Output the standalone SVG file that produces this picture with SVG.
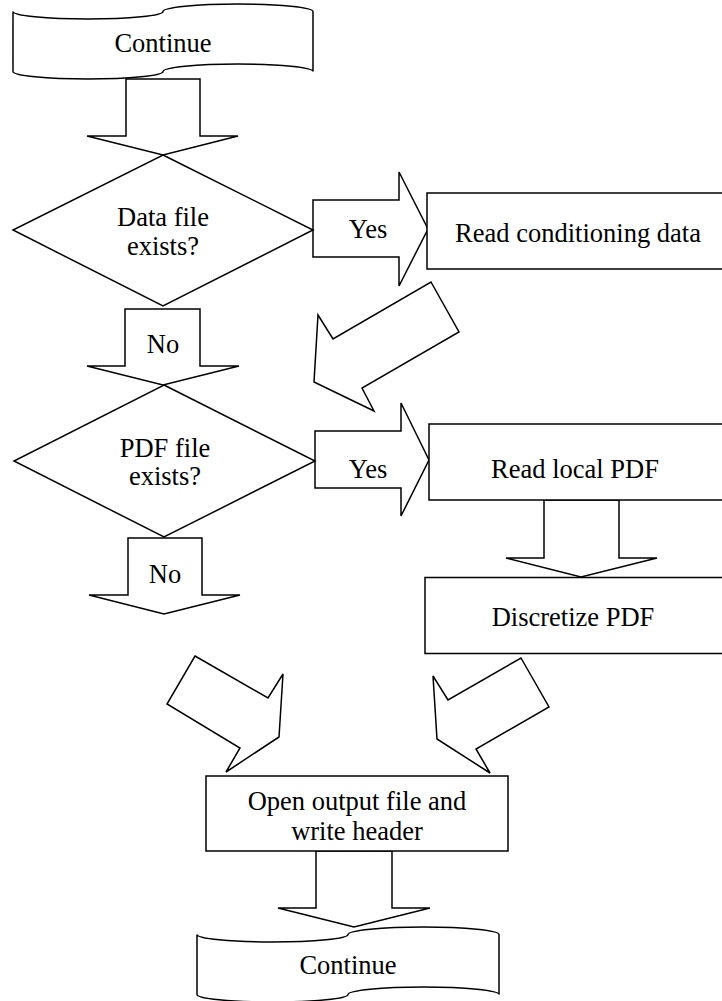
<svg xmlns="http://www.w3.org/2000/svg" width="722" height="1001" viewBox="0 0 722 1001">
<style>
.s{fill:#fff;stroke:#000;stroke-width:1.5;stroke-linejoin:miter}
.t{font-family:"Liberation Serif","Times New Roman",serif;font-size:26.5px;fill:#000;text-anchor:middle}
</style>
<rect width="722" height="1001" fill="#fff"/>
<g id="connectors">
  <path class="s" d="M126,79 L200,79 L200,136 L238,136 L163,155 L87,136 L126,136 Z"/>
  <path class="s" d="M313,200 L399,200 L399,172 L428,229 L399,286 L399,257 L313,257 Z"/>
  <path class="s" d="M125,309 L200,309 L200,366 L239,366 L163,385 L87,366 L125,366 Z"/>
  <path class="s" d="M431,282 L459,332 L362,388 L374,411 L314,382 L318,315 L333,339 Z"/>
  <path class="s" d="M315,431 L401,431 L401,403 L429,460 L401,516 L401,488 L315,488 Z"/>
  <path class="s" d="M128,538 L202,538 L202,595 L240,595 L164,614 L89,595 L128,595 Z"/>
  <path class="s" d="M544,500 L619,500 L619,558 L657,558 L581,577 L506,558 L544,558 Z"/>
  <path class="s" d="M195,656 L268,698 L283,674 L279,737 L226,772 L240,748 L167,704 Z"/>
  <path class="s" d="M521,658 L549,707 L476,749 L490,773 L437,739 L433,676 L448,700 Z"/>
  <path class="s" d="M316,851 L392,851 L392,908 L430,908 L354,927 L278,908 L316,908 Z"/>
  <text class="t" x="368" y="238">Yes</text>
  <text class="t" x="163" y="353">No</text>
  <text class="t" x="368" y="478">Yes</text>
  <text class="t" x="165" y="583">No</text>
</g>
<g id="start">
  <path class="s" d="M13,11.5 A75,7.5 0 0 0 163,11.5 A75,7.5 0 0 1 313,11.5 L313,71.5 A75,7.5 0 0 0 163,71.5 A75,7.5 0 0 1 13,71.5 Z"/>
  <text class="t" x="163" y="52">Continue</text>
</g>
<g id="dataFileExists">
  <path class="s" d="M163,155 L313,230 L163,306 L13,230 Z"/>
  <text class="t" x="163" y="226">Data file</text>
  <text class="t" x="163" y="255">exists?</text>
</g>
<g id="readConditioning">
  <rect class="s" x="427" y="193" width="300" height="76"/>
  <text class="t" x="578" y="242">Read conditioning data</text>
</g>
<g id="pdfFileExists">
  <path class="s" d="M164,385 L315,461 L164,537 L14,461 Z"/>
  <text class="t" x="165" y="457">PDF file</text>
  <text class="t" x="165" y="485">exists?</text>
</g>
<g id="readLocalPdf">
  <rect class="s" x="429" y="424" width="300" height="76"/>
  <text class="t" x="575" y="478">Read local PDF</text>
</g>
<g id="discretizePdf">
  <rect class="s" x="425" y="577.5" width="302" height="76"/>
  <text class="t" x="573" y="626">Discretize PDF</text>
</g>
<g id="openOutput">
  <rect class="s" x="206" y="776" width="302" height="75"/>
  <text class="t" x="357" y="810">Open output file and</text>
  <text class="t" x="357" y="840">write header</text>
</g>
<g id="end">
  <path class="s" d="M197,934.5 A75.5,7.5 0 0 0 348,934.5 A75.5,7.5 0 0 1 499,934.5 L499,994.5 A75.5,7.5 0 0 0 348,994.5 A75.5,7.5 0 0 1 197,994.5 Z"/>
  <text class="t" x="348" y="974">Continue</text>
</g>
</svg>
